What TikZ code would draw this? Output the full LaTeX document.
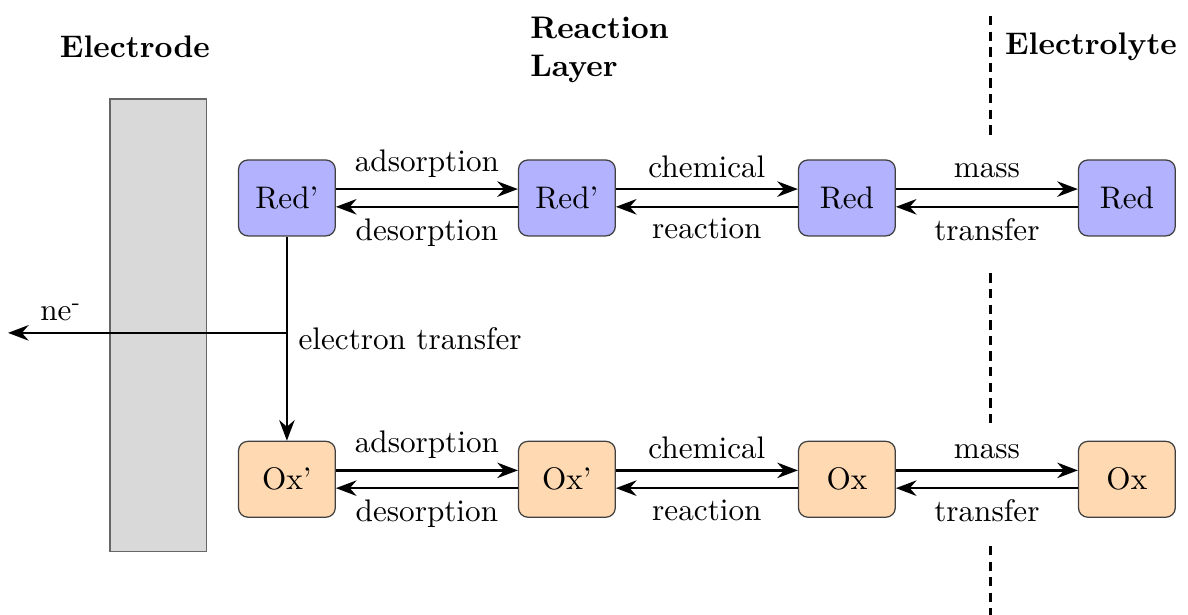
\documentclass[tikz,border=0pt]{standalone}
\usetikzlibrary{positioning,arrows.meta}
\begin{document}
\begin{tikzpicture}[>=Stealth,node distance=2.30cm and 2.05cm,
  spec/.style={draw=black!75,rounded corners=3pt,align=center,
               minimum width=1.09cm,minimum height=0.855cm},
  red/.style={spec,fill=blue!30}, ox/.style={spec,fill=orange!30},
  flow/.style={->,thick}, title/.style={font=\bfseries,align=left}]
\useasboundingbox (0,0) rectangle (13.383,-6.928);
% electrode plate
\node[draw=black!60,fill=gray!30,minimum width=1.09cm,minimum height=5.10cm,
      inner sep=0pt] (elec) at (1.785,-3.666) {};
\node[title] (telec) at (1.52,-0.53) {Electrode};
\node[title,anchor=west] (tlayer) at (5.85,-0.56) {Reaction\\Layer};
\node[title] (tlyte) at (12.29,-0.53) {Electrolyte};
% boundary between layer and bulk
\draw[thick,densely dashed] (11.16,-0.18) -- (11.16,-1.54);
\draw[thick,densely dashed] (11.16,-3.08) -- (11.16,-4.77);
\draw[thick,densely dashed] (11.16,-6.15) -- (11.16,-6.93);
% species
\node[red] (redA) at (3.232,-2.230) {Red'};
\node[red,right=of redA] (redB) {Red'};
\node[red,right=of redB] (redC) {Red};
\node[red,right=of redC] (redD) {Red};
\node[ox,below=of redA] (oxA) {Ox'};
\node[ox,right=of oxA] (oxB) {Ox'};
\node[ox,right=of oxB] (oxC) {Ox};
\node[ox,right=of oxC] (oxD) {Ox};
% exchanges
\foreach \s in {red,ox}{
  \draw[flow] ([yshift=0.1cm]\s A.east) -- node[above] {adsorption} ([yshift=0.1cm]\s B.west);
  \draw[flow] ([yshift=-0.1cm]\s B.west) -- node[below] {desorption} ([yshift=-0.1cm]\s A.east);
  \draw[flow] ([yshift=0.1cm]\s B.east) -- node[above] {chemical} ([yshift=0.1cm]\s C.west);
  \draw[flow] ([yshift=-0.1cm]\s C.west) -- node[below] {reaction} ([yshift=-0.1cm]\s B.east);
  \draw[flow] ([yshift=0.1cm]\s C.east) -- node[above] {mass} ([yshift=0.1cm]\s D.west);
  \draw[flow] ([yshift=-0.1cm]\s D.west) -- node[below] {transfer} ([yshift=-0.1cm]\s C.east);
}
% electron transfer
\coordinate (jn) at (redA |- 0,-3.75);
\coordinate (out) at (0.09,-3.75);
\draw[flow] (redA) -- node[right] {electron transfer} (oxA);
\draw[flow] (jn) -- node[above,pos=0.81] {ne\textsuperscript{-}} (out);
\end{tikzpicture}
\end{document}
